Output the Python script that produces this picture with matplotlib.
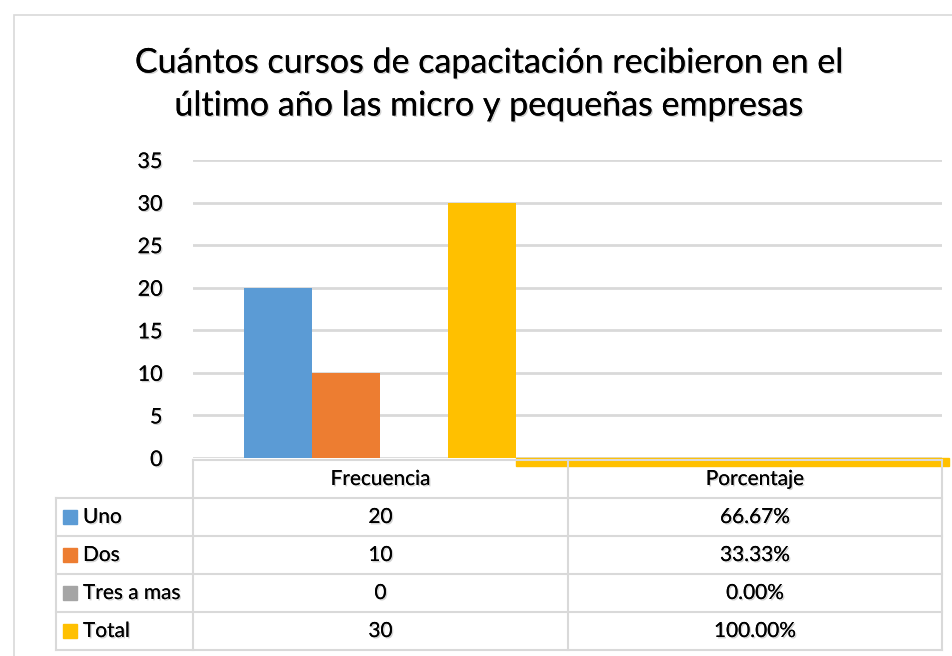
import matplotlib
matplotlib.use('Agg')
import matplotlib.pyplot as plt
import matplotlib.patheffects as pe
from matplotlib.lines import Line2D
from matplotlib.patches import Rectangle

## Data
categories = ['Frecuencia', 'Porcentaje']
series = ['Uno', 'Dos', 'Tres a mas', 'Total']
frecuencia = [20, 10, 0, 30]
porcentaje = [0.6667, 0.3333, 0.0, 1.0]
pct_labels = ['66.67%', '33.33%', '0.00%', '100.00%']
colors = ['#5B9BD5', '#ED7D31', '#A5A5A5', '#FFC000']
yticks = [0, 5, 10, 15, 20, 25, 30, 35]
title = 'Cuántos cursos de capacitación recibieron en el\núltimo año las micro y pequeñas empresas'

W, H = 953, 656
plt.rcParams['font.family'] = ['Lato', 'DejaVu Sans']
shadow = [pe.withSimplePatchShadow(offset=(1, -1), shadow_rgbFace='#808080', alpha=0.35), pe.Normal()]


def fx(x):
    return x / W


def fy(y):
    return 1 - y / H


fig = plt.figure(figsize=(W / 100, H / 100), dpi=100)
grid_c = '#d9d9d9'

# outer chart border
fig.add_artist(Rectangle((fx(14), -0.1), 1.2, fy(15) + 0.1, transform=fig.transFigure,
                         fill=False, edgecolor=grid_c, linewidth=1.2, clip_on=False))

fig.text(fx(489), fy(84), title, ha='center', va='center', fontsize=24.5,
         linespacing=1.42, color='#000000', path_effects=shadow)

ax = fig.add_axes([fx(193), fy(458), fx(942) - fx(193), fy(160) - fy(458)])
ax.set_xlim(-0.5, 1.5)
ax.set_ylim(0, 35)
for sp in ax.spines.values():
    sp.set_visible(False)
ax.set_yticks(yticks)
ax.set_xticks([])
ax.tick_params(axis='y', length=0, pad=22, labelsize=15.5)
for t in ax.get_yticklabels():
    t.set_path_effects(shadow)
ax.grid(axis='y', color=grid_c, linewidth=2)
ax.set_axisbelow(True)

w = 68 / 374.5
offs = [-1.5 * w, -0.5 * w, 0.5 * w, 1.5 * w]
for i in range(len(series)):
    ax.bar(0 + offs[i], frecuencia[i], width=w, color=colors[i], zorder=3)

# Total bar of Porcentaje, rendered as a strip along the axis
x0 = 0 + offs[3] + w / 2
ax.add_patch(Rectangle((x0, 0.05), 1.52 - x0, -porcentaje[3], color=colors[3],
                       clip_on=False, zorder=4))

# data table
row_y = [460, 498, 536, 574, 612, 650]
col_x = [56, 193, 568, 942]
lk = dict(color=grid_c, linewidth=1.5, transform=fig.transFigure)
fig.add_artist(Line2D([fx(193), fx(942)], [fy(row_y[0]), fy(row_y[0])], **lk))
for yy in row_y[1:]:
    fig.add_artist(Line2D([fx(56), fx(942)], [fy(yy), fy(yy)], **lk))
fig.add_artist(Line2D([fx(56), fx(56)], [fy(row_y[1]), fy(row_y[-1])], **lk))
for xx in col_x[1:]:
    fig.add_artist(Line2D([fx(xx), fx(xx)], [fy(row_y[0]), fy(row_y[-1])], **lk))

fs = 15
for j, c in enumerate(categories):
    cx = (col_x[j + 1] + col_x[j + 2]) / 2
    fig.text(fx(cx), fy((row_y[0] + row_y[1]) / 2), c, ha='center', va='center',
             fontsize=fs, path_effects=shadow)

for i, s in enumerate(series):
    cy = (row_y[i + 1] + row_y[i + 2]) / 2
    fig.add_artist(Rectangle((fx(63), fy(cy + 7)), fx(14), 14 / H, color=colors[i],
                             transform=fig.transFigure))
    fig.text(fx(83), fy(cy), s, ha='left', va='center', fontsize=fs, path_effects=shadow)
    fig.text(fx((col_x[1] + col_x[2]) / 2), fy(cy), str(frecuencia[i]), ha='center',
             va='center', fontsize=fs, path_effects=shadow)
    fig.text(fx((col_x[2] + col_x[3]) / 2), fy(cy), pct_labels[i], ha='center',
             va='center', fontsize=fs, path_effects=shadow)

plt.savefig('out.png', dpi=100)
